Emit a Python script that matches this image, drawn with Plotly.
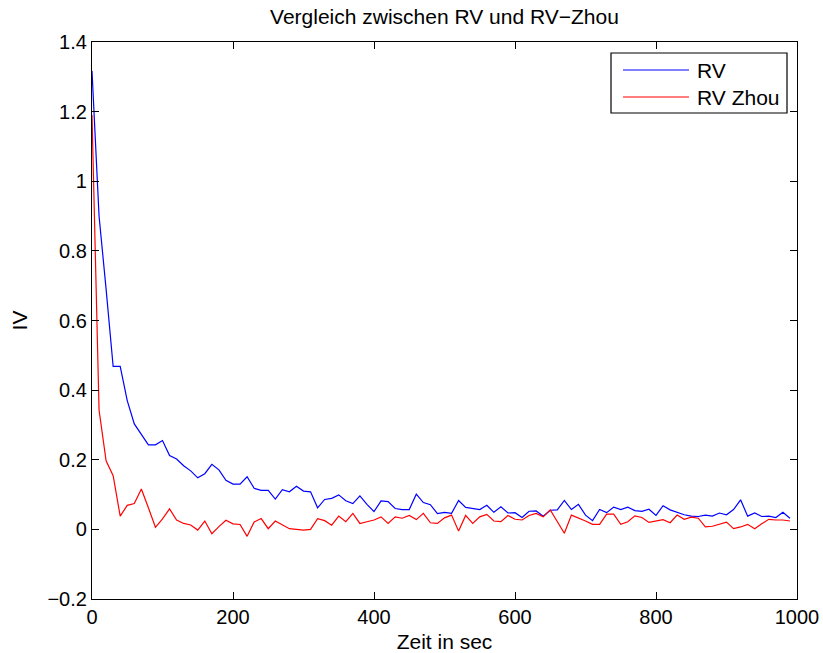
import plotly.graph_objects as go

# Zeitachse in Sekunden (Abtastung alle 10 s)
zeit = list(range(0, 1000, 10))

# Realisierte Volatilitaet (RV)
rv = [
    1.317, 0.900, 0.690, 0.468, 0.468, 0.370, 0.303, 0.274, 0.243, 0.243,
    0.255, 0.212, 0.202, 0.183, 0.168, 0.148, 0.160, 0.187, 0.171, 0.141,
    0.130, 0.130, 0.151, 0.118, 0.112, 0.112, 0.087, 0.114, 0.108, 0.124,
    0.110, 0.108, 0.062, 0.086, 0.089, 0.099, 0.082, 0.074, 0.096, 0.072,
    0.051, 0.082, 0.080, 0.060, 0.057, 0.057, 0.101, 0.077, 0.071, 0.045,
    0.049, 0.046, 0.083, 0.063, 0.061, 0.057, 0.069, 0.049, 0.065, 0.047,
    0.048, 0.034, 0.052, 0.053, 0.038, 0.055, 0.056, 0.083, 0.057, 0.072,
    0.041, 0.025, 0.057, 0.048, 0.064, 0.057, 0.064, 0.054, 0.052, 0.058,
    0.040, 0.068, 0.056, 0.048, 0.042, 0.038, 0.037, 0.041, 0.038, 0.047,
    0.042, 0.057, 0.085, 0.038, 0.047, 0.037, 0.038, 0.034, 0.049, 0.032,
]

# RV-Schaetzer nach Zhou
rv_zhou = [
    1.190, 0.343, 0.197, 0.154, 0.038, 0.069, 0.074, 0.116, 0.062, 0.006,
    0.030, 0.059, 0.027, 0.017, 0.0125, -0.002, 0.024, -0.0125, 0.008, 0.026,
    0.016, 0.014, -0.020, 0.021, 0.031, 0.002, 0.024, 0.0125, 0.002, 0.000,
    -0.002, 0.000, 0.031, 0.025, 0.012, 0.038, 0.022, 0.046, 0.017, 0.022,
    0.027, 0.036, 0.017, 0.036, 0.032, 0.040, 0.028, 0.046, 0.019, 0.017,
    0.033, 0.041, -0.005, 0.040, 0.017, 0.036, 0.043, 0.024, 0.022, 0.040,
    0.029, 0.027, 0.040, 0.046, 0.036, 0.056, 0.024, -0.011, 0.041, 0.033,
    0.024, 0.0145, 0.0145, 0.044, 0.044, 0.0145, 0.022, 0.039, 0.034, 0.020,
    0.024, 0.028, 0.019, 0.041, 0.029, 0.035, 0.032, 0.007, 0.009, 0.015,
    0.021, 0.002, 0.007, 0.0145, 0.002, 0.016, 0.029, 0.027, 0.027, 0.024,
]

x_ticks = [0, 200, 400, 600, 800, 1000]
y_ticks = [-0.2, 0, 0.2, 0.4, 0.6, 0.8, 1, 1.2, 1.4]

serien = [("RV", rv, "#0000ff"), ("RV Zhou", rv_zhou, "#ff0000")]

FONT = "Liberation Sans, Arial, Helvetica, sans-serif"
FS_TICK = 20
FS_TEXT = 21

fig = go.Figure()
for name, werte, farbe in serien:
    fig.add_trace(go.Scatter(
        x=zeit, y=werte, mode="lines", name=name,
        line=dict(color=farbe, width=1.2),
    ))

L, R, T, B = 92, 26, 42, 54
W, H = 823, 653
pw, ph = W - L - R, H - T - B

achse = dict(
    showgrid=False, zeroline=False, automargin=False,
    showline=True, linecolor="black", linewidth=1.2,
    mirror="ticks", ticks="inside", ticklen=7, tickcolor="black",
    tickfont=dict(family=FONT, size=FS_TICK, color="black"),
)

fig.update_layout(
    width=W, height=H,
    margin=dict(l=L, r=R, t=T, b=B),
    paper_bgcolor="white", plot_bgcolor="white",
    showlegend=False,
    title=dict(
        text="Vergleich zwischen RV und RV\u2212Zhou",
        font=dict(family=FONT, size=FS_TEXT, color="black"),
        x=0.5, xanchor="center", xref="paper",
        y=1 - 17 / H, yanchor="middle", yref="container",
    ),
    xaxis=dict(
        range=[0, 1000], tickvals=x_ticks, **achse,
        title=dict(text="Zeit in sec", font=dict(family=FONT, size=FS_TEXT, color="black"), standoff=8),
    ),
    yaxis=dict(
        range=[-0.2, 1.4], tickvals=y_ticks, **achse,
        title=dict(text="IV", font=dict(family=FONT, size=FS_TEXT, color="black"), standoff=14),
    ),
)

# Legendenkasten oben rechts
def px_x(p):
    return (p - L) / pw

def px_y(p):
    return (H - B - p) / ph

fig.add_shape(type="rect", xref="paper", yref="paper",
              x0=px_x(611), x1=px_x(787), y0=px_y(113), y1=px_y(53),
              line=dict(color="black", width=1.2), fillcolor="white", layer="above")
for i, (name, _, farbe) in enumerate(serien):
    yy = 70 + i * 27
    fig.add_shape(type="line", xref="paper", yref="paper",
                  x0=px_x(623), x1=px_x(689), y0=px_y(yy), y1=px_y(yy),
                  line=dict(color=farbe, width=1.2), layer="above")
    fig.add_annotation(text=name, xref="paper", yref="paper",
                       x=px_x(695), y=px_y(yy), xanchor="left", yanchor="middle",
                       showarrow=False,
                       font=dict(family=FONT, size=FS_TEXT, color="black"))

fig.write_html("out.html")
